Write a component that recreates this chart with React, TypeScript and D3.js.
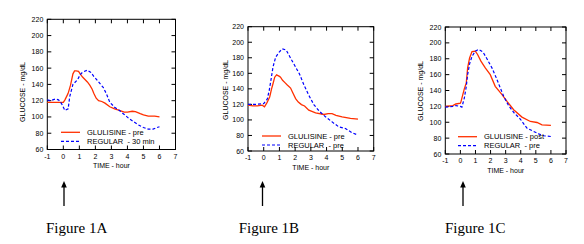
import React from "react";
import * as d3 from "d3";

// ---- data ----
const xTicks = [-1, 0, 1, 2, 3, 4, 5, 6, 7];
const yTicks = [60, 80, 100, 120, 140, 160, 180, 200, 220];

const aRedT = [-1, 0, 0.1, 0.2, 0.3, 0.45, 0.6, 0.7, 0.8, 0.95, 1.05, 1.2, 1.35, 1.5, 1.65, 1.8, 1.9, 2.05, 2.2, 2.4, 2.6, 2.9, 3.2, 3.5, 3.8, 4.0, 4.3, 4.5, 4.8, 5.0, 5.3, 5.7, 6.0];
const aRedV = [118, 118, 121, 125, 129, 139, 153, 156.5, 156.5, 156, 153, 149, 146, 143, 139, 134, 129, 123, 120, 119, 117, 112.5, 110, 108, 106, 106, 107, 106.5, 104, 102.5, 101, 101, 100];
const aBlueT = [-1, -0.8, -0.5, -0.3, -0.1, 0.1, 0.3, 0.4, 0.6, 0.9, 1.05, 1.2, 1.5, 1.7, 1.9, 2.2, 2.5, 2.7, 2.9, 3.2, 3.5, 3.8, 4.1, 4.4, 4.7, 5.0, 5.3, 5.6, 5.85, 6.0];
const aBlueV = [121, 120, 122, 121, 116, 108, 110, 125, 140, 146, 152, 155, 157.5, 155, 150, 143, 136, 128, 118, 112, 108, 103, 98, 94, 90, 87, 85, 85, 87, 88];

const bRedT = [-1, -0.7, -0.4, -0.1, 0.05, 0.2, 0.38, 0.5, 0.59, 0.7, 0.82, 1.0, 1.07, 1.2, 1.35, 1.5, 1.71, 1.85, 2.03, 2.2, 2.4, 2.6, 2.87, 3.3, 3.83, 4.1, 4.35, 4.6, 4.99, 5.52, 6.0];
const bRedV = [119, 118, 118, 119, 117, 122, 129.5, 140, 146.6, 155, 158, 156, 155, 151, 148, 145, 141, 135, 127.4, 123, 119.7, 118, 112.5, 109, 107, 108, 108, 106, 104, 102, 101];
const bBlueT = [-1, -0.5, 0, 0.23, 0.35, 0.44, 0.59, 0.76, 0.97, 1.18, 1.43, 1.71, 2.03, 2.28, 2.56, 2.87, 3.19, 3.55, 3.93, 4.35, 4.78, 5.2, 5.62, 6.0];
const bBlueV = [120, 120, 121, 127, 138, 148.7, 168, 180.7, 187, 191.4, 190, 179.5, 168, 159, 145, 131.7, 119.7, 111, 104, 97.5, 91, 89, 83.5, 80.5];

const cRedT = [-1, -0.5, -0.3, 0, 0.04, 0.1, 0.26, 0.39, 0.48, 0.61, 0.77, 0.99, 1.14, 1.36, 1.65, 1.98, 2.31, 2.76, 3.09, 3.53, 4.08, 4.64, 5.08, 5.41, 6.0];
const cRedV = [120, 121, 123, 124, 126, 130.5, 142, 149.5, 168.5, 181, 189, 189.6, 185.4, 177, 168.5, 160, 145.3, 134.8, 126.3, 115.8, 106.5, 101, 99.7, 96.8, 96];
const cBlueT = [-1, -0.5, -0.3, 0, 0.1, 0.26, 0.39, 0.48, 0.61, 0.77, 0.99, 1.21, 1.5, 1.76, 2.09, 2.38, 2.65, 2.87, 3.2, 3.57, 3.97, 4.41, 4.86, 5.19, 5.52, 6.0];
const cBlueV = [119, 120, 121, 120, 119, 130.5, 145, 160, 173.6, 183, 189.6, 191.7, 188.4, 180, 168.5, 155.9, 143, 132.7, 120.8, 111.6, 104, 92.6, 88.4, 85.4, 83, 82];

const legendRed = ["GLULISINE - pre", "GLULISINE - pre", "GLULISINE - post"];
const legendBlue = ["REGULAR  - 30 min", "REGULAR  - pre", "REGULAR  - pre"];
const figureLabels = ["Figure 1A", "Figure 1B", "Figure 1C"];

const RED = "#ff3000";
const BLUE = "#0000ff";
const SANS = "Arial, 'Liberation Sans', sans-serif";

type Layout = {
  x0: number; x1: number; y0: number; y1: number;
  titleX: number; titleY: number; legX: number; legY: number;
  arrowX: number; figX: number;
};

const layouts: Layout[] = [
  { x0: 47.3, x1: 175.5, y0: 19.3, y1: 149.5, titleX: 22.7, titleY: 92, legX: 61, legY: 132.3, arrowX: 64, figX: 46 },
  { x0: 248, x1: 373.7, y0: 26.7, y1: 151, titleX: 225, titleY: 90, legX: 262, legY: 136, arrowX: 262.5, figX: 238.7 },
  { x0: 445.3, x1: 566, y0: 27, y1: 154, titleX: 420.7, titleY: 91, legX: 458, legY: 136.7, arrowX: 463, figX: 445 },
];

const series = [
  [aRedT, aRedV, aBlueT, aBlueV],
  [bRedT, bRedV, bBlueT, bBlueV],
  [cRedT, cRedV, cBlueT, cBlueV],
];

function Panel({ i }: { i: number }) {
  const L = layouts[i];
  const [rt, rv, bt, bv] = series[i];
  const x = d3.scaleLinear().domain([-1, 7]).range([L.x0, L.x1]);
  const y = d3.scaleLinear().domain([60, 220]).range([L.y1, L.y0]);
  const mk = (ts: number[], vs: number[]) =>
    d3.line<number>().x((t) => x(t)).y((_, k) => y(vs[k]))(ts) || "";
  const tl = 4;
  const midX = (L.x0 + L.x1) / 2;
  return (
    <g>
      <rect x={L.x0} y={L.y0} width={L.x1 - L.x0} height={L.y1 - L.y0} fill="none" stroke="#000" strokeWidth={1} />
      {xTicks.map((t) => (
        <g key={"x" + t}>
          <line x1={x(t)} x2={x(t)} y1={L.y1} y2={L.y1 - tl} stroke="#000" />
          <line x1={x(t)} x2={x(t)} y1={L.y0} y2={L.y0 + tl} stroke="#000" />
          <text x={x(t)} y={L.y1 + 9} fontSize={7} fontFamily={SANS} textAnchor="middle">{t}</text>
        </g>
      ))}
      {yTicks.map((v) => (
        <g key={"y" + v}>
          <line x1={L.x0} x2={L.x0 + tl} y1={y(v)} y2={y(v)} stroke="#000" />
          <line x1={L.x1} x2={L.x1 - tl} y1={y(v)} y2={y(v)} stroke="#000" />
          <text x={L.x0 - 4} y={y(v) + 2.5} fontSize={7} fontFamily={SANS} textAnchor="end">{v}</text>
        </g>
      ))}
      <path d={mk(rt, rv)} fill="none" stroke={RED} strokeWidth={1.3} />
      <path d={mk(bt, bv)} fill="none" stroke={BLUE} strokeWidth={1.2} strokeDasharray="3,2" />
      <line x1={L.legX} x2={L.legX + 19} y1={L.legY} y2={L.legY} stroke={RED} strokeWidth={1.3} />
      <line x1={L.legX} x2={L.legX + 19} y1={L.legY + 9} y2={L.legY + 9} stroke={BLUE} strokeWidth={1.2} strokeDasharray="3,2" />
      <text x={L.legX + 26} y={L.legY + 2.7} fontSize={7.5} fontFamily={SANS} style={{ whiteSpace: "pre" }}>{legendRed[i]}</text>
      <text x={L.legX + 26} y={L.legY + 11.7} fontSize={7.5} fontFamily={SANS} style={{ whiteSpace: "pre" }}>{legendBlue[i]}</text>
      <text x={midX} y={L.y1 + 18.5} fontSize={7} fontFamily={SANS} textAnchor="middle">TIME - hour</text>
      <text transform={`translate(${L.titleX + 2.5},${L.titleY}) rotate(-90)`} fontSize={7} fontFamily={SANS} textAnchor="middle">GLUCOSE - mg/dL</text>
      <line x1={L.arrowX} x2={L.arrowX} y1={186} y2={206} stroke="#000" strokeWidth={1.3} />
      <path d={`M${L.arrowX - 2.8},187.5 L${L.arrowX + 2.8},187.5 L${L.arrowX},181 Z`} fill="#000" />
      <text x={L.figX} y={233} fontSize={15} fontFamily="'Times New Roman', 'Liberation Serif', serif">{figureLabels[i]}</text>
    </g>
  );
}

export default function App() {
  return (
    <svg width={584} height={244} style={{ position: "absolute", left: 0, top: 0, background: "#fff" }}>
      <rect width={584} height={244} fill="#fff" />
      {[0, 1, 2].map((i) => <Panel key={i} i={i} />)}
    </svg>
  );
}
